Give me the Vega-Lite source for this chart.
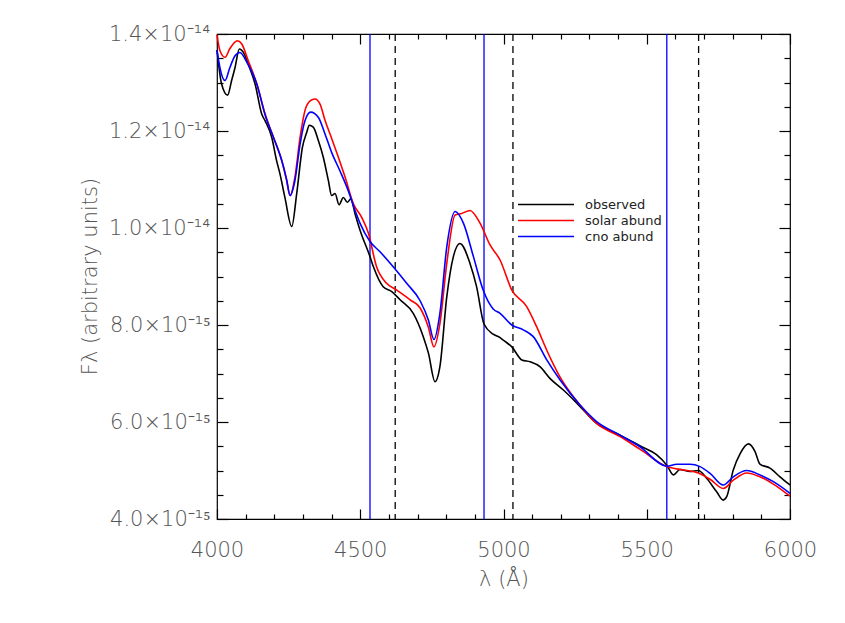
{
  "$schema": "https://vega.github.io/schema/vega-lite/v6.json",
  "width": 573,
  "height": 485,
  "autosize": {"type": "none"},
  "padding": {"left": 217, "top": 34, "right": 55, "bottom": 104},
  "background": "white",
  "config": {
    "view": {"stroke": "black", "strokeWidth": 1.2},
    "axis": {
      "domain": false,
      "grid": false,
      "tickColor": "black",
      "tickWidth": 1.2,
      "labelFont": "DejaVu Sans",
      "labelFontWeight": 300,
      "labelColor": "#555555",
      "labelFontSize": 21,
      "titleFont": "DejaVu Sans",
      "titleFontWeight": 300,
      "titleColor": "#555555",
      "titleFontSize": 21
    }
  },
  "datasets": {
    "spectra": [
      {"lambda": 4000, "flux": 13.67e-15, "series": "observed"},
      {"lambda": 4016, "flux": 12.97e-15, "series": "observed"},
      {"lambda": 4037, "flux": 12.74e-15, "series": "observed"},
      {"lambda": 4051, "flux": 13.04e-15, "series": "observed"},
      {"lambda": 4063, "flux": 13.31e-15, "series": "observed"},
      {"lambda": 4078, "flux": 13.69e-15, "series": "observed"},
      {"lambda": 4092, "flux": 13.62e-15, "series": "observed"},
      {"lambda": 4109, "flux": 13.38e-15, "series": "observed"},
      {"lambda": 4133, "flux": 12.97e-15, "series": "observed"},
      {"lambda": 4156, "flux": 12.35e-15, "series": "observed"},
      {"lambda": 4168, "flux": 12.21e-15, "series": "observed"},
      {"lambda": 4191, "flux": 11.87e-15, "series": "observed"},
      {"lambda": 4208, "flux": 11.39e-15, "series": "observed"},
      {"lambda": 4220, "flux": 11.11e-15, "series": "observed"},
      {"lambda": 4237, "flux": 10.63e-15, "series": "observed"},
      {"lambda": 4261, "flux": 10.03e-15, "series": "observed"},
      {"lambda": 4278, "flux": 10.70e-15, "series": "observed"},
      {"lambda": 4298, "flux": 11.66e-15, "series": "observed"},
      {"lambda": 4313, "flux": 11.97e-15, "series": "observed"},
      {"lambda": 4322, "flux": 12.12e-15, "series": "observed"},
      {"lambda": 4336, "flux": 12.08e-15, "series": "observed"},
      {"lambda": 4354, "flux": 11.80e-15, "series": "observed"},
      {"lambda": 4371, "flux": 11.46e-15, "series": "observed"},
      {"lambda": 4389, "flux": 10.97e-15, "series": "observed"},
      {"lambda": 4400, "flux": 10.67e-15, "series": "observed"},
      {"lambda": 4412, "flux": 10.71e-15, "series": "observed"},
      {"lambda": 4426, "flux": 10.48e-15, "series": "observed"},
      {"lambda": 4441, "flux": 10.63e-15, "series": "observed"},
      {"lambda": 4455, "flux": 10.53e-15, "series": "observed"},
      {"lambda": 4467, "flux": 10.60e-15, "series": "observed"},
      {"lambda": 4482, "flux": 10.29e-15, "series": "observed"},
      {"lambda": 4499, "flux": 9.96e-15, "series": "observed"},
      {"lambda": 4534, "flux": 9.41e-15, "series": "observed"},
      {"lambda": 4546, "flux": 9.20e-15, "series": "observed"},
      {"lambda": 4580, "flux": 8.79e-15, "series": "observed"},
      {"lambda": 4610, "flux": 8.69e-15, "series": "observed"},
      {"lambda": 4639, "flux": 8.52e-15, "series": "observed"},
      {"lambda": 4685, "flux": 8.24e-15, "series": "observed"},
      {"lambda": 4720, "flux": 7.76e-15, "series": "observed"},
      {"lambda": 4738, "flux": 7.42e-15, "series": "observed"},
      {"lambda": 4761, "flux": 6.83e-15, "series": "observed"},
      {"lambda": 4778, "flux": 7.14e-15, "series": "observed"},
      {"lambda": 4802, "flux": 8.58e-15, "series": "observed"},
      {"lambda": 4825, "flux": 9.41e-15, "series": "observed"},
      {"lambda": 4848, "flux": 9.68e-15, "series": "observed"},
      {"lambda": 4883, "flux": 9.27e-15, "series": "observed"},
      {"lambda": 4906, "flux": 8.79e-15, "series": "observed"},
      {"lambda": 4932, "flux": 8.02e-15, "series": "observed"},
      {"lambda": 4964, "flux": 7.81e-15, "series": "observed"},
      {"lambda": 4988, "flux": 7.74e-15, "series": "observed"},
      {"lambda": 4999, "flux": 7.69e-15, "series": "observed"},
      {"lambda": 5029, "flux": 7.55e-15, "series": "observed"},
      {"lambda": 5064, "flux": 7.28e-15, "series": "observed"},
      {"lambda": 5093, "flux": 7.24e-15, "series": "observed"},
      {"lambda": 5127, "flux": 7.14e-15, "series": "observed"},
      {"lambda": 5162, "flux": 6.90e-15, "series": "observed"},
      {"lambda": 5209, "flux": 6.66e-15, "series": "observed"},
      {"lambda": 5256, "flux": 6.39e-15, "series": "observed"},
      {"lambda": 5325, "flux": 5.97e-15, "series": "observed"},
      {"lambda": 5407, "flux": 5.73e-15, "series": "observed"},
      {"lambda": 5476, "flux": 5.51e-15, "series": "observed"},
      {"lambda": 5535, "flux": 5.32e-15, "series": "observed"},
      {"lambda": 5570, "flux": 5.11e-15, "series": "observed"},
      {"lambda": 5593, "flux": 4.91e-15, "series": "observed"},
      {"lambda": 5616, "flux": 5.02e-15, "series": "observed"},
      {"lambda": 5651, "flux": 4.98e-15, "series": "observed"},
      {"lambda": 5680, "flux": 5.00e-15, "series": "observed"},
      {"lambda": 5709, "flux": 4.84e-15, "series": "observed"},
      {"lambda": 5744, "flux": 4.56e-15, "series": "observed"},
      {"lambda": 5767, "flux": 4.39e-15, "series": "observed"},
      {"lambda": 5779, "flux": 4.46e-15, "series": "observed"},
      {"lambda": 5802, "flux": 5.01e-15, "series": "observed"},
      {"lambda": 5826, "flux": 5.35e-15, "series": "observed"},
      {"lambda": 5855, "flux": 5.55e-15, "series": "observed"},
      {"lambda": 5878, "flux": 5.39e-15, "series": "observed"},
      {"lambda": 5895, "flux": 5.13e-15, "series": "observed"},
      {"lambda": 5930, "flux": 5.05e-15, "series": "observed"},
      {"lambda": 5965, "flux": 4.87e-15, "series": "observed"},
      {"lambda": 6000, "flux": 4.70e-15, "series": "observed"},

      {"lambda": 4000, "flux": 13.98e-15, "series": "solar abund"},
      {"lambda": 4010, "flux": 13.66e-15, "series": "solar abund"},
      {"lambda": 4028, "flux": 13.52e-15, "series": "solar abund"},
      {"lambda": 4045, "flux": 13.70e-15, "series": "solar abund"},
      {"lambda": 4071, "flux": 13.86e-15, "series": "solar abund"},
      {"lambda": 4086, "flux": 13.80e-15, "series": "solar abund"},
      {"lambda": 4109, "flux": 13.45e-15, "series": "solar abund"},
      {"lambda": 4139, "flux": 12.97e-15, "series": "solar abund"},
      {"lambda": 4168, "flux": 12.35e-15, "series": "solar abund"},
      {"lambda": 4197, "flux": 11.87e-15, "series": "solar abund"},
      {"lambda": 4226, "flux": 11.39e-15, "series": "solar abund"},
      {"lambda": 4243, "flux": 10.98e-15, "series": "solar abund"},
      {"lambda": 4255, "flux": 10.67e-15, "series": "solar abund"},
      {"lambda": 4272, "flux": 11.05e-15, "series": "solar abund"},
      {"lambda": 4290, "flux": 11.87e-15, "series": "solar abund"},
      {"lambda": 4307, "flux": 12.42e-15, "series": "solar abund"},
      {"lambda": 4325, "flux": 12.62e-15, "series": "solar abund"},
      {"lambda": 4342, "flux": 12.66e-15, "series": "solar abund"},
      {"lambda": 4360, "flux": 12.55e-15, "series": "solar abund"},
      {"lambda": 4377, "flux": 12.22e-15, "series": "solar abund"},
      {"lambda": 4400, "flux": 11.85e-15, "series": "solar abund"},
      {"lambda": 4423, "flux": 11.47e-15, "series": "solar abund"},
      {"lambda": 4447, "flux": 11.05e-15, "series": "solar abund"},
      {"lambda": 4476, "flux": 10.50e-15, "series": "solar abund"},
      {"lambda": 4505, "flux": 10.22e-15, "series": "solar abund"},
      {"lambda": 4528, "flux": 9.90e-15, "series": "solar abund"},
      {"lambda": 4557, "flux": 9.20e-15, "series": "solar abund"},
      {"lambda": 4592, "flux": 8.86e-15, "series": "solar abund"},
      {"lambda": 4627, "flux": 8.72e-15, "series": "solar abund"},
      {"lambda": 4674, "flux": 8.52e-15, "series": "solar abund"},
      {"lambda": 4709, "flux": 8.35e-15, "series": "solar abund"},
      {"lambda": 4738, "flux": 7.95e-15, "series": "solar abund"},
      {"lambda": 4757, "flux": 7.55e-15, "series": "solar abund"},
      {"lambda": 4778, "flux": 8.03e-15, "series": "solar abund"},
      {"lambda": 4802, "flux": 9.27e-15, "series": "solar abund"},
      {"lambda": 4831, "flux": 10.27e-15, "series": "solar abund"},
      {"lambda": 4854, "flux": 10.30e-15, "series": "solar abund"},
      {"lambda": 4883, "flux": 10.36e-15, "series": "solar abund"},
      {"lambda": 4918, "flux": 10.10e-15, "series": "solar abund"},
      {"lambda": 4953, "flux": 9.65e-15, "series": "solar abund"},
      {"lambda": 4988, "flux": 9.34e-15, "series": "solar abund"},
      {"lambda": 5029, "flux": 8.72e-15, "series": "solar abund"},
      {"lambda": 5081, "flux": 8.38e-15, "series": "solar abund"},
      {"lambda": 5116, "flux": 7.96e-15, "series": "solar abund"},
      {"lambda": 5151, "flux": 7.48e-15, "series": "solar abund"},
      {"lambda": 5197, "flux": 6.93e-15, "series": "solar abund"},
      {"lambda": 5267, "flux": 6.35e-15, "series": "solar abund"},
      {"lambda": 5325, "flux": 5.97e-15, "series": "solar abund"},
      {"lambda": 5407, "flux": 5.70e-15, "series": "solar abund"},
      {"lambda": 5476, "flux": 5.44e-15, "series": "solar abund"},
      {"lambda": 5570, "flux": 5.08e-15, "series": "solar abund"},
      {"lambda": 5628, "flux": 5.01e-15, "series": "solar abund"},
      {"lambda": 5680, "flux": 4.95e-15, "series": "solar abund"},
      {"lambda": 5721, "flux": 4.82e-15, "series": "solar abund"},
      {"lambda": 5767, "flux": 4.63e-15, "series": "solar abund"},
      {"lambda": 5802, "flux": 4.80e-15, "series": "solar abund"},
      {"lambda": 5849, "flux": 4.95e-15, "series": "solar abund"},
      {"lambda": 5895, "flux": 4.87e-15, "series": "solar abund"},
      {"lambda": 5942, "flux": 4.72e-15, "series": "solar abund"},
      {"lambda": 6000, "flux": 4.47e-15, "series": "solar abund"},

      {"lambda": 4000, "flux": 13.66e-15, "series": "cno abund"},
      {"lambda": 4010, "flux": 13.31e-15, "series": "cno abund"},
      {"lambda": 4028, "flux": 13.04e-15, "series": "cno abund"},
      {"lambda": 4045, "flux": 13.31e-15, "series": "cno abund"},
      {"lambda": 4063, "flux": 13.55e-15, "series": "cno abund"},
      {"lambda": 4080, "flux": 13.62e-15, "series": "cno abund"},
      {"lambda": 4104, "flux": 13.42e-15, "series": "cno abund"},
      {"lambda": 4139, "flux": 12.97e-15, "series": "cno abund"},
      {"lambda": 4168, "flux": 12.33e-15, "series": "cno abund"},
      {"lambda": 4197, "flux": 11.87e-15, "series": "cno abund"},
      {"lambda": 4226, "flux": 11.39e-15, "series": "cno abund"},
      {"lambda": 4243, "flux": 11.00e-15, "series": "cno abund"},
      {"lambda": 4255, "flux": 10.67e-15, "series": "cno abund"},
      {"lambda": 4272, "flux": 10.98e-15, "series": "cno abund"},
      {"lambda": 4290, "flux": 11.73e-15, "series": "cno abund"},
      {"lambda": 4307, "flux": 12.21e-15, "series": "cno abund"},
      {"lambda": 4327, "flux": 12.39e-15, "series": "cno abund"},
      {"lambda": 4354, "flux": 12.28e-15, "series": "cno abund"},
      {"lambda": 4377, "flux": 11.94e-15, "series": "cno abund"},
      {"lambda": 4400, "flux": 11.56e-15, "series": "cno abund"},
      {"lambda": 4429, "flux": 11.18e-15, "series": "cno abund"},
      {"lambda": 4458, "flux": 10.77e-15, "series": "cno abund"},
      {"lambda": 4482, "flux": 10.36e-15, "series": "cno abund"},
      {"lambda": 4499, "flux": 10.10e-15, "series": "cno abund"},
      {"lambda": 4534, "flux": 9.72e-15, "series": "cno abund"},
      {"lambda": 4569, "flux": 9.51e-15, "series": "cno abund"},
      {"lambda": 4615, "flux": 9.20e-15, "series": "cno abund"},
      {"lambda": 4662, "flux": 8.86e-15, "series": "cno abund"},
      {"lambda": 4709, "flux": 8.50e-15, "series": "cno abund"},
      {"lambda": 4738, "flux": 8.10e-15, "series": "cno abund"},
      {"lambda": 4757, "flux": 7.70e-15, "series": "cno abund"},
      {"lambda": 4778, "flux": 8.24e-15, "series": "cno abund"},
      {"lambda": 4802, "flux": 9.61e-15, "series": "cno abund"},
      {"lambda": 4831, "flux": 10.34e-15, "series": "cno abund"},
      {"lambda": 4860, "flux": 10.10e-15, "series": "cno abund"},
      {"lambda": 4895, "flux": 9.41e-15, "series": "cno abund"},
      {"lambda": 4929, "flux": 8.72e-15, "series": "cno abund"},
      {"lambda": 4964, "flux": 8.33e-15, "series": "cno abund"},
      {"lambda": 4988, "flux": 8.24e-15, "series": "cno abund"},
      {"lambda": 5029, "flux": 8.00e-15, "series": "cno abund"},
      {"lambda": 5069, "flux": 7.90e-15, "series": "cno abund"},
      {"lambda": 5104, "flux": 7.76e-15, "series": "cno abund"},
      {"lambda": 5151, "flux": 7.28e-15, "series": "cno abund"},
      {"lambda": 5197, "flux": 6.87e-15, "series": "cno abund"},
      {"lambda": 5267, "flux": 6.35e-15, "series": "cno abund"},
      {"lambda": 5325, "flux": 6.01e-15, "series": "cno abund"},
      {"lambda": 5407, "flux": 5.73e-15, "series": "cno abund"},
      {"lambda": 5476, "flux": 5.49e-15, "series": "cno abund"},
      {"lambda": 5570, "flux": 5.09e-15, "series": "cno abund"},
      {"lambda": 5605, "flux": 5.13e-15, "series": "cno abund"},
      {"lambda": 5651, "flux": 5.13e-15, "series": "cno abund"},
      {"lambda": 5686, "flux": 5.08e-15, "series": "cno abund"},
      {"lambda": 5721, "flux": 4.94e-15, "series": "cno abund"},
      {"lambda": 5767, "flux": 4.70e-15, "series": "cno abund"},
      {"lambda": 5802, "flux": 4.87e-15, "series": "cno abund"},
      {"lambda": 5849, "flux": 5.00e-15, "series": "cno abund"},
      {"lambda": 5895, "flux": 4.91e-15, "series": "cno abund"},
      {"lambda": 5942, "flux": 4.77e-15, "series": "cno abund"},
      {"lambda": 6000, "flux": 4.53e-15, "series": "cno abund"}
    ],
    "markers": [
      {"lambda": 4534, "kind": "model"},
      {"lambda": 4932, "kind": "model"},
      {"lambda": 5570, "kind": "model"},
      {"lambda": 4622, "kind": "observed"},
      {"lambda": 5033, "kind": "observed"},
      {"lambda": 5681, "kind": "observed"}
    ]
  },
  "resolve": {"axis": {"x": "independent", "y": "independent"}},
  "layer": [
    {
      "data": {"name": "markers"},
      "transform": [{"filter": "datum.kind === 'model'"}],
      "mark": {"type": "rule", "color": "#0000ff", "strokeWidth": 1.3},
      "encoding": {
        "x": {"field": "lambda", "type": "quantitative", "scale": {"domain": [4000, 6000], "nice": false, "zero": false}, "axis": null}
      }
    },
    {
      "data": {"name": "markers"},
      "transform": [{"filter": "datum.kind === 'observed'"}],
      "mark": {"type": "rule", "color": "black", "strokeWidth": 1.3, "strokeDash": [7, 5]},
      "encoding": {
        "x": {"field": "lambda", "type": "quantitative", "scale": {"domain": [4000, 6000], "nice": false, "zero": false}, "axis": null}
      }
    },
    {
      "data": {"name": "spectra"},
      "transform": [{"filter": "datum.series === 'observed'"}],
      "mark": {"type": "line", "strokeWidth": 1.6, "interpolate": "monotone"},
      "encoding": {
        "x": {
          "field": "lambda", "type": "quantitative",
          "scale": {"domain": [4000, 6000], "nice": false, "zero": false},
          "axis": {
            "orient": "bottom",
            "title": "λ (Å)",
            "titlePadding": 8,
            "values": [4000,4100,4200,4300,4400,4500,4600,4700,4800,4900,5000,5100,5200,5300,5400,5500,5600,5700,5800,5900,6000],
            "labelExpr": "datum.value % 500 === 0 ? format(datum.value, 'd') : ''",
            "tickSize": {"condition": {"test": "datum.value % 500 === 0", "value": -10}, "value": -5},
            "labelPadding": 30,
            "labelFlush": false
          }
        },
        "y": {
          "field": "flux", "type": "quantitative",
          "scale": {"domain": [4e-15, 1.4e-14], "nice": false, "zero": false},
          "axis": {
            "orient": "left",
            "offset": -11,
            "tickSize": 11,
            "title": "Fλ (arbitrary units)",
            "titleX": -138,
            "titleY": 242,
            "titleBaseline": "middle",
            "titleAlign": "center",
            "values": [4e-15, 6e-15, 8e-15, 1e-14, 1.2e-14, 1.4e-14],
            "labelExpr": "datum.value > 9.9e-15 ? format(datum.value*1e14, '.1f') + '×10⁻¹⁴' : format(datum.value*1e15, '.1f') + '×10⁻¹⁵'",
            "labelPadding": 7,
            "labelFlush": false
          }
        },
        "color": {
          "field": "series", "type": "nominal",
          "scale": {"domain": ["observed", "solar abund", "cno abund"], "range": ["#000000", "#ff0000", "#0000ff"]},
          "legend": {
            "orient": "none",
            "legendX": 300,
            "legendY": 164,
            "title": null,
            "symbolType": "stroke",
            "symbolSize": 3136,
            "symbolStrokeWidth": 1.5,
            "clipHeight": 13,
            "labelFont": "DejaVu Sans",
            "labelFontSize": 13,
            "labelColor": "#222222",
            "labelOffset": 10,
            "rowPadding": 2
          }
        }
      }
    },
    {
      "data": {"name": "spectra"},
      "transform": [{"filter": "datum.series === 'solar abund'"}],
      "mark": {"type": "line", "strokeWidth": 1.6, "interpolate": "monotone"},
      "encoding": {
        "x": {
          "field": "lambda", "type": "quantitative",
          "scale": {"domain": [4000, 6000], "nice": false, "zero": false},
          "axis": {
            "orient": "top",
            "title": null,
            "values": [4000,4100,4200,4300,4400,4500,4600,4700,4800,4900,5000,5100,5200,5300,5400,5500,5600,5700,5800,5900,6000],
            "labels": false,
            "tickSize": {"condition": {"test": "datum.value % 500 === 0", "value": -10}, "value": -5}
          }
        },
        "y": {
          "field": "flux", "type": "quantitative",
          "axis": {
            "orient": "right",
            "title": null,
            "values": [4e-15,4.5e-15,5e-15,5.5e-15,6e-15,6.5e-15,7e-15,7.5e-15,8e-15,8.5e-15,9e-15,9.5e-15,1e-14,1.05e-14,1.1e-14,1.15e-14,1.2e-14,1.25e-14,1.3e-14,1.35e-14,1.4e-14],
            "labels": false,
            "tickSize": {"condition": {"test": "round(datum.value*2e15) % 4 === 0", "value": -11}, "value": -6}
          }
        },
        "color": {"field": "series", "type": "nominal"}
      }
    },
    {
      "data": {"name": "spectra"},
      "transform": [{"filter": "datum.series === 'cno abund'"}],
      "mark": {"type": "line", "strokeWidth": 1.6, "interpolate": "monotone"},
      "encoding": {
        "x": {
          "field": "lambda", "type": "quantitative",
          "scale": {"domain": [4000, 6000], "nice": false, "zero": false},
          "axis": null
        },
        "y": {
          "field": "flux", "type": "quantitative",
          "axis": {
            "orient": "left",
            "offset": -6,
            "tickSize": 6,
            "title": null,
            "labels": false,
            "values": [4.5e-15,5e-15,5.5e-15,6.5e-15,7e-15,7.5e-15,8.5e-15,9e-15,9.5e-15,1.05e-14,1.1e-14,1.15e-14,1.25e-14,1.3e-14,1.35e-14]
          }
        },
        "color": {"field": "series", "type": "nominal"}
      }
    }
  ]
}
